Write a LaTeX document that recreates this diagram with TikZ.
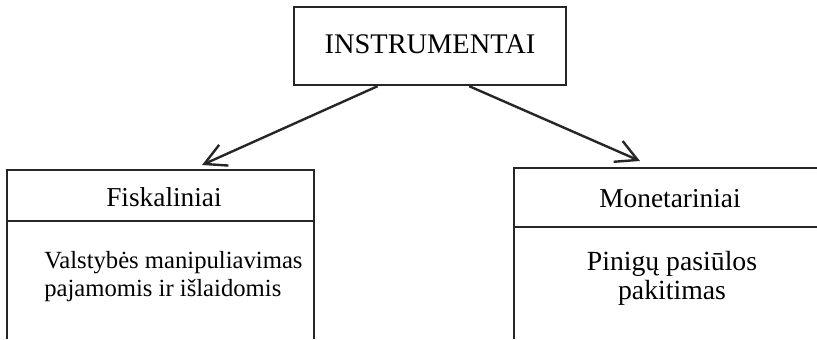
\documentclass[tikz,border=0pt]{standalone}
\usepackage{fontspec}
\setmainfont{Liberation Serif}
\usetikzlibrary{arrows.meta,calc}
\begin{document}
\begin{tikzpicture}[x=0.75pt,y=-0.75pt,
  ln/.style={draw=black!85, line width=1.8pt, line join=miter},
  arr/.style={ln, -{Straight Barb[length=16pt,width=17pt,line width=1.8pt]}},
  head/.style={font=\fontsize{20.5}{24}\selectfont, inner sep=0pt},
  body/.style={font=\fontsize{18.5}{21}\selectfont, inner sep=0pt}]
\useasboundingbox (0,0) rectangle (817,339);
% top box
\node[ln, rectangle, minimum width=204pt, minimum height=58.5pt, inner sep=0pt,
      font=\fontsize{21.3}{24}\selectfont] (top) at (430,46) {\raisebox{3pt}{INSTRUMENTAI}};
% left box (open at bottom)
\coordinate (lbl) at (7,339);
\coordinate (ltl) at (7,170);
\coordinate (ltr) at (314,170);
\coordinate (lbr) at (314,339);
\coordinate (ldl) at (7,221);
\coordinate (ldr) at (314,221);
\draw[ln] (lbl) -- (ltl) -- (ltr) -- (lbr);
\draw[ln] (ldl) -- (ldr);
\node[head] (fisk) at (164,197) {Fiskaliniai};
\node[body, anchor=west, align=left] (fbody) at (44,277)
  {Valstybės manipuliavimas\\pajamomis ir išlaidomis};
% right box (open at bottom and right)
\coordinate (rbl) at (514,339);
\coordinate (rtl) at (514,168);
\coordinate (rtr) at (817,168);
\coordinate (rdl) at (514,227);
\coordinate (rdr) at (817,227);
\draw[ln] (rbl) -- (rtl) -- (rtr);
\draw[ln] (rdl) -- (rdr);
\node[head] (mon) at (670,199) {Monetariniai};
\node[body, font=\fontsize{20.8}{21.5}\selectfont, align=center] (mbody) at (672,278) {Pinigų pasiūlos\\pakitimas};
% arrow targets
\coordinate (ltip) at (202,165);
\coordinate (rtip) at (640,161);
\draw[arr] ($(top.south west)!0.309!(top.south east)$) -- (ltip);
\draw[arr] ($(top.south west)!0.643!(top.south east)$) -- (rtip);
\end{tikzpicture}
\end{document}
